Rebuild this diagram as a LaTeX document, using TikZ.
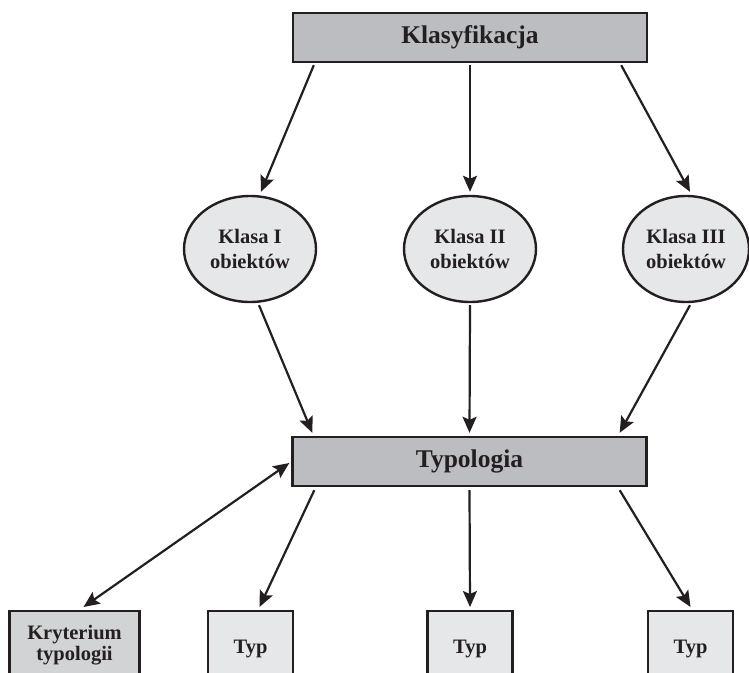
\documentclass[tikz,border=0pt]{standalone}
\usepackage{fontspec}
\setmainfont{Liberation Serif}
\usetikzlibrary{arrows.meta,shapes.geometric}
\definecolor{txt}{HTML}{231F20}
\definecolor{darkfill}{HTML}{BCBDC0}
\definecolor{lightfill}{HTML}{E6E7E8}
\definecolor{midfill}{HTML}{D1D3D4}
\tikzset{
  bigbox/.style={draw=txt, line width=2.4pt, fill=darkfill, minimum width=354pt, minimum height=49pt, inner sep=0pt, font=\bfseries\fontsize{25.5}{28}\selectfont, text=txt},
  klasa/.style={ellipse, draw=txt, line width=2.4pt, fill=lightfill, minimum width=132pt, minimum height=106pt, inner sep=0pt, align=center, font=\bfseries\fontsize{20.5}{25}\selectfont, text=txt},
  smallbox/.style={draw=txt, line width=2.4pt, fill=lightfill, minimum width=85pt, inner sep=0pt, align=center, font=\bfseries\fontsize{20.5}{21}\selectfont, text=txt},
  arr/.style={draw=txt, line width=2.2pt, -{Stealth[length=16pt,width=14pt,inset=3pt]}},
  darr/.style={draw=txt, line width=2.2pt, {Stealth[length=16pt,width=14pt,inset=3pt]}-{Stealth[length=16pt,width=14pt,inset=3pt]}}
}
\begin{document}
\begin{tikzpicture}[x=1pt,y=-1pt]
\useasboundingbox (0,0) rectangle (749,672);
\clip (0,0) rectangle (749,672);
\node[bigbox] (top) at (470,37.5) {Klasyfikacja};
\node[klasa] (k1) at (250,249) {Klasa I\\obiektów};
\node[klasa] (k2) at (470,249) {Klasa II\\obiektów};
\node[klasa, minimum width=126pt] (k3) at (686,249) {Klasa III\\obiektów};
\node[bigbox] (typ) at (469.5,461.5) {Typologia};
\node[smallbox, fill=midfill, minimum width=130pt, text height=49pt, text depth=40pt, anchor=north] (kr) at (74.5,610) {Kryterium\\typologii};
\node[smallbox, text height=42pt, text depth=40pt, anchor=north] (t1) at (250.5,610) {Typ};
\node[smallbox, text height=42pt, text depth=40pt, anchor=north] (t2) at (470,610) {Typ};
\node[smallbox, text height=42pt, text depth=40pt, anchor=north] (t3) at (690.5,610) {Typ};

\draw[arr] ([xshift=22pt,yshift=-2pt]top.south west) -- ([xshift=11pt,yshift=3pt]k1.north);
\draw[arr] ([yshift=-2pt]top.south) -- ([yshift=3pt]k2.north);
\draw[arr] ([xshift=-27pt,yshift=-2pt]top.south east) -- ([xshift=4pt,yshift=3pt]k3.north);

\draw[arr] ([xshift=9pt,yshift=-2pt]k1.south) -- ([xshift=21pt,yshift=3pt]typ.north west);
\draw[arr] ([yshift=-2pt]k2.south) -- ([yshift=3pt]typ.north);
\draw[arr] ([xshift=4pt,yshift=-2pt]k3.south) -- ([xshift=-28pt,yshift=3pt]typ.north east);

\draw[arr] ([xshift=23pt,yshift=-3pt]typ.south west) -- ([xshift=9pt,yshift=3pt]t1.north);
\draw[arr] ([yshift=-3pt]typ.south) -- ([yshift=3pt]t2.north);
\draw[arr] ([xshift=-28pt,yshift=-3pt]typ.south east) -- ([yshift=3pt]t3.north);
\draw[darr] ([xshift=-2pt,yshift=-1.5pt]typ.west) -- ([xshift=9pt,yshift=3pt]kr.north);
\end{tikzpicture}
\end{document}
